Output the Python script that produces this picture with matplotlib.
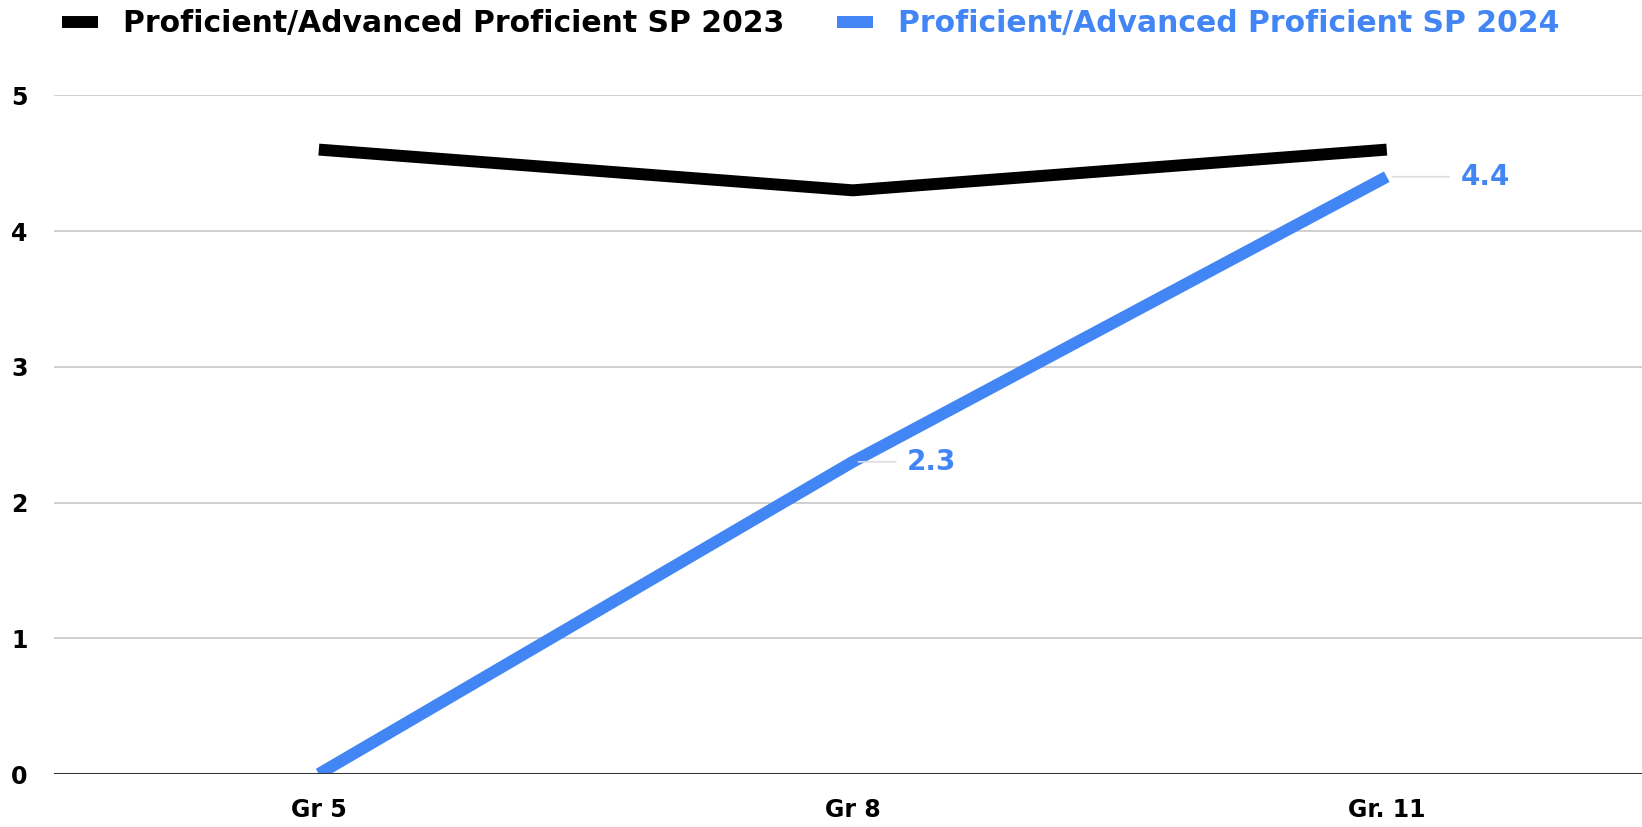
import matplotlib
matplotlib.use("Agg")
import matplotlib.pyplot as plt
import numpy as np

# Daten
grades = ["Gr 5", "Gr 8", "Gr. 11"]
sp_2023 = [4.6, 4.3, 4.6]
sp_2024 = [0.0, 2.3, 4.4]
label_2023 = "Proficient/Advanced Proficient SP 2023"
label_2024 = "Proficient/Advanced Proficient SP 2024"

blue = "#4285F4"
plt.rcParams['font.family'] = ['DejaVu Sans']
plt.rcParams['font.weight'] = 'bold'

fig = plt.figure(figsize=(16.42, 8.27), dpi=100)
ax = fig.add_axes([54/1642, 53/827, (1642-54)/1642, (774-95.3)/827])

x = np.arange(len(grades))
ax.plot(x, sp_2023, color="black", lw=8.6, label=label_2023, solid_capstyle='butt', zorder=3)
ax.plot(x, sp_2024, color=blue, lw=8.6, label=label_2024, solid_capstyle='butt', zorder=3)

# Gitter
for v in range(1, 6):
    ax.axhline(v, color="#cccccc", lw=1.3, zorder=1)
ax.axhline(0, color="#333333", lw=2.2, zorder=4)

ax.set_xlim(-0.496, 2.478)
ax.set_ylim(0, 5)
ax.set_yticks(range(0, 6))
ax.set_xticks(x)
ax.set_xticklabels(grades)
ax.tick_params(axis='y', length=0, pad=19, labelsize=17)
ax.tick_params(axis='x', length=0, pad=17, labelsize=17)
for s in ax.spines.values():
    s.set_visible(False)

# Datenbeschriftungen
offsets = {1: 39, 2: 53}
for i, off in offsets.items():
    ax.annotate(f"{sp_2024[i]:.1f}", (x[i], sp_2024[i]), xytext=(off, 0),
                textcoords='offset points', ha='left', va='center',
                fontsize=20, color=blue, fontweight='bold',
                arrowprops=dict(arrowstyle='-', color='#dddddd', lw=1.2,
                                shrinkA=6, shrinkB=4))

leg = fig.legend(loc='center left', bbox_to_anchor=(62/1642, 1 - 23.5/827),
                 ncol=2, frameon=False, fontsize=21.5, handlelength=1.2,
                 handletextpad=0.84, columnspacing=1.77, borderpad=0, borderaxespad=0)
leg.get_texts()[0].set_color("black")
leg.get_texts()[1].set_color(blue)

fig.savefig("out.png", dpi=100)
